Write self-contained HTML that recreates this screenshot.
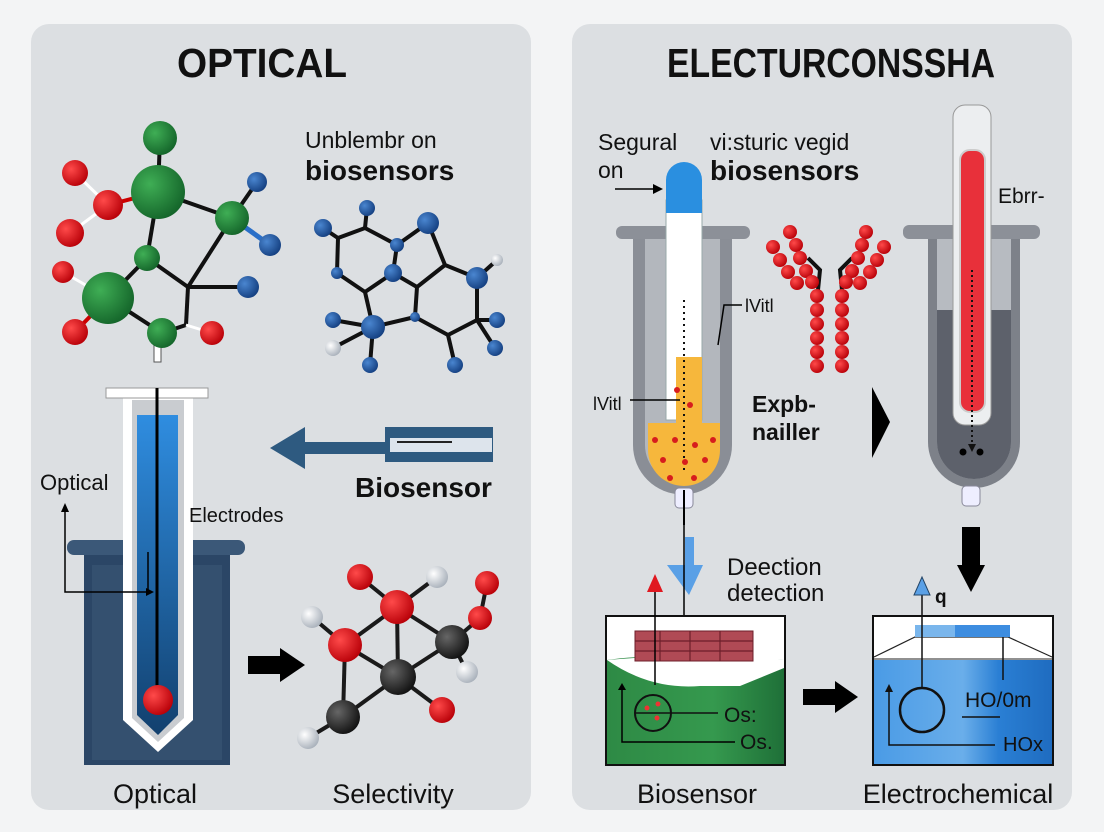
<!DOCTYPE html>
<html><head><meta charset="utf-8"><style>
html,body{margin:0;padding:0;background:#f3f4f5;}
svg{display:block;font-family:"Liberation Sans",sans-serif;}
</style></head><body>
<svg width="1104" height="832" viewBox="0 0 1104 832" xmlns="http://www.w3.org/2000/svg">
<defs>
<linearGradient id="bl" x1="0" y1="0" x2="0" y2="1"><stop offset="0" stop-color="#2f8de0"/><stop offset="1" stop-color="#12406e"/></linearGradient>
<linearGradient id="gr" x1="0" y1="0" x2="1" y2="0"><stop offset="0" stop-color="#2e8a45"/><stop offset="0.6" stop-color="#35994e"/><stop offset="1" stop-color="#1f7038"/></linearGradient>
<linearGradient id="bw" x1="0" y1="0" x2="1" y2="0"><stop offset="0" stop-color="#4a9be6"/><stop offset="0.5" stop-color="#6aaeea"/><stop offset="0.7" stop-color="#2a7fd4"/><stop offset="1" stop-color="#1f6cc0"/></linearGradient>
<radialGradient id="rb" cx="0.35" cy="0.35" r="0.7"><stop offset="0" stop-color="#ff4a4a"/><stop offset="1" stop-color="#b80008"/></radialGradient>
<radialGradient id="gb" cx="0.35" cy="0.35" r="0.7"><stop offset="0" stop-color="#3fae55"/><stop offset="1" stop-color="#14652a"/></radialGradient>
<radialGradient id="ub" cx="0.35" cy="0.35" r="0.7"><stop offset="0" stop-color="#4a86d0"/><stop offset="1" stop-color="#143f80"/></radialGradient>
<radialGradient id="kb" cx="0.35" cy="0.35" r="0.7"><stop offset="0" stop-color="#666"/><stop offset="1" stop-color="#111"/></radialGradient>
<radialGradient id="wb" cx="0.35" cy="0.35" r="0.7"><stop offset="0" stop-color="#ffffff"/><stop offset="1" stop-color="#a8b0ba"/></radialGradient>
</defs>
<rect x="31" y="24" width="500" height="786" rx="18" fill="#dcdfe2"/>
<rect x="572" y="24" width="500" height="786" rx="18" fill="#dcdfe2"/>
<text x="177" y="77" font-size="41" font-weight="bold" fill="#111" textLength="170" lengthAdjust="spacingAndGlyphs">OPTICAL</text>
<text x="667" y="77" font-size="41" font-weight="bold" fill="#111" textLength="328" lengthAdjust="spacingAndGlyphs">ELECTURCONSSHA</text>

<!-- left molecule -->
<g stroke="#111" stroke-width="4" fill="none">
<line x1="160" y1="138" x2="158" y2="192"/><line x1="158" y1="192" x2="232" y2="218"/>
<line x1="158" y1="192" x2="147" y2="258"/><line x1="147" y1="258" x2="108" y2="298"/>
<line x1="147" y1="258" x2="188" y2="287"/><line x1="188" y1="287" x2="232" y2="218"/>
<line x1="188" y1="287" x2="186" y2="325"/><line x1="186" y1="325" x2="162" y2="333"/>
<line x1="162" y1="333" x2="108" y2="298"/><line x1="232" y1="218" x2="257" y2="182"/>
<line x1="188" y1="287" x2="248" y2="287"/>
</g>
<g stroke="#fff" stroke-width="3"><line x1="75" y1="173" x2="108" y2="205"/><line x1="70" y1="233" x2="108" y2="205"/><line x1="63" y1="272" x2="108" y2="298"/><line x1="186" y1="325" x2="212" y2="333"/></g>
<line x1="232" y1="218" x2="270" y2="245" stroke="#2a6fc8" stroke-width="5"/>
<line x1="108" y1="205" x2="158" y2="192" stroke="#c00" stroke-width="4"/>
<line x1="75" y1="332" x2="108" y2="298" stroke="#c00" stroke-width="4"/>
<rect x="154" y="340" width="7" height="22" fill="#fff" stroke="#555"/>
<circle cx="160" cy="138" r="17" fill="url(#gb)"/><circle cx="158" cy="192" r="27" fill="url(#gb)"/>
<circle cx="75" cy="173" r="13" fill="url(#rb)"/><circle cx="108" cy="205" r="15" fill="url(#rb)"/><circle cx="70" cy="233" r="14" fill="url(#rb)"/>
<circle cx="232" cy="218" r="17" fill="url(#gb)"/><circle cx="257" cy="182" r="10" fill="url(#ub)"/><circle cx="270" cy="245" r="11" fill="url(#ub)"/>
<circle cx="147" cy="258" r="13" fill="url(#gb)"/><circle cx="108" cy="298" r="26" fill="url(#gb)"/>
<circle cx="63" cy="272" r="11" fill="url(#rb)"/><circle cx="75" cy="332" r="13" fill="url(#rb)"/>
<circle cx="162" cy="333" r="15" fill="url(#gb)"/><circle cx="212" cy="333" r="12" fill="url(#rb)"/><circle cx="248" cy="287" r="11" fill="url(#ub)"/>

<text x="305" y="148" font-size="23" fill="#111">Unblembr on</text>
<text x="305" y="180" font-size="28" font-weight="bold" fill="#111">biosensors</text>

<!-- blue molecule -->
<g stroke="#111" stroke-width="4" fill="none">
<polyline points="323,228 338,238 365,228 397,245 393,273 365,292 337,273 338,238"/>
<polyline points="397,245 428,223 445,265 477,278 497,260"/>
<polyline points="445,265 417,287 415,317 448,335 477,320 477,278"/>
<line x1="393" y1="273" x2="417" y2="287"/><line x1="365" y1="292" x2="373" y2="327"/>
<line x1="373" y1="327" x2="415" y2="317"/><line x1="373" y1="327" x2="333" y2="320"/>
<line x1="373" y1="327" x2="333" y2="348"/><line x1="373" y1="327" x2="370" y2="365"/>
<line x1="448" y1="335" x2="455" y2="365"/><line x1="477" y1="320" x2="497" y2="320"/><line x1="477" y1="320" x2="495" y2="348"/>
<line x1="365" y1="228" x2="367" y2="208"/>
</g>
<g fill="url(#ub)">
<circle cx="323" cy="228" r="9"/><circle cx="367" cy="208" r="8"/><circle cx="428" cy="223" r="11"/><circle cx="397" cy="245" r="7"/>
<circle cx="393" cy="273" r="9"/><circle cx="337" cy="273" r="6"/><circle cx="477" cy="278" r="11"/><circle cx="373" cy="327" r="12"/>
<circle cx="333" cy="320" r="8"/><circle cx="370" cy="365" r="8"/><circle cx="455" cy="365" r="8"/><circle cx="497" cy="320" r="8"/><circle cx="495" cy="348" r="8"/><circle cx="415" cy="317" r="5"/>
</g>
<circle cx="497" cy="260" r="6" fill="url(#wb)"/><circle cx="333" cy="348" r="8" fill="url(#wb)"/>

<!-- left tube container -->
<rect x="84" y="550" width="146" height="215" fill="#2b4666"/>
<rect x="92" y="565" width="130" height="195" fill="#34506f"/>
<rect x="67" y="540" width="178" height="15" rx="7" fill="#3b5878"/>
<path d="M123,395 L193,395 L193,720 L158,752 L123,720 Z" fill="#fff"/>
<rect x="106" y="388" width="102" height="10" fill="#fff" stroke="#999"/>
<path d="M132,400 L184,400 L184,718 L158,742 L132,718 Z" fill="#c9ccd0"/>
<path d="M137,415 L178,415 L178,715 L158,735 L137,715 Z" fill="url(#bl)"/>
<line x1="157" y1="388" x2="157" y2="690" stroke="#000" stroke-width="3"/>
<circle cx="158" cy="700" r="15" fill="url(#rb)"/>
<g stroke="#000" stroke-width="1.5" fill="none"><polyline points="65,510 65,592 148,592"/><line x1="148" y1="552" x2="148" y2="592"/></g>
<polygon points="61,512 69,512 65,503" fill="#000"/><polygon points="146,588 154,592 146,596" fill="#000"/>
<text x="40" y="490" font-size="22" fill="#111">Optical</text>
<text x="189" y="522" font-size="20" fill="#111">Electrodes</text>

<!-- biosensor arrow -->
<polygon points="270,448 305,427 305,442 386,442 386,454 305,454 305,469" fill="#2e5a80"/>
<rect x="385" y="427" width="108" height="35" fill="#2e5a80"/>
<rect x="390" y="438" width="102" height="14" fill="#dde4ec"/>
<line x1="397" y1="442" x2="452" y2="442" stroke="#222" stroke-width="2"/>
<text x="355" y="497" font-size="28" font-weight="bold" fill="#111">Biosensor</text>

<!-- bottom molecule -->
<polygon points="248,656 280,656 280,648 305,665 280,682 280,674 248,674" fill="#000"/>
<g stroke="#1a1a1a" stroke-width="4">
<line x1="360" y1="577" x2="397" y2="607"/><line x1="437" y1="577" x2="397" y2="607"/>
<line x1="397" y1="607" x2="345" y2="645"/><line x1="397" y1="607" x2="452" y2="642"/><line x1="397" y1="607" x2="398" y2="677"/>
<line x1="312" y1="617" x2="345" y2="645"/><line x1="345" y1="645" x2="398" y2="677"/><line x1="345" y1="645" x2="343" y2="717"/>
<line x1="452" y1="642" x2="398" y2="677"/><line x1="452" y1="642" x2="480" y2="618"/><line x1="480" y1="618" x2="487" y2="583"/>
<line x1="452" y1="642" x2="467" y2="672"/><line x1="398" y1="677" x2="442" y2="710"/><line x1="398" y1="677" x2="343" y2="717"/><line x1="343" y1="717" x2="308" y2="738"/>
</g>
<circle cx="360" cy="577" r="13" fill="url(#rb)"/><circle cx="437" cy="577" r="11" fill="url(#wb)"/>
<circle cx="397" cy="607" r="17" fill="url(#rb)"/><circle cx="487" cy="583" r="12" fill="url(#rb)"/><circle cx="480" cy="618" r="12" fill="url(#rb)"/>
<circle cx="312" cy="617" r="11" fill="url(#wb)"/><circle cx="345" cy="645" r="17" fill="url(#rb)"/><circle cx="452" cy="642" r="17" fill="url(#kb)"/>
<circle cx="467" cy="672" r="11" fill="url(#wb)"/><circle cx="398" cy="677" r="18" fill="url(#kb)"/><circle cx="442" cy="710" r="13" fill="url(#rb)"/>
<circle cx="343" cy="717" r="17" fill="url(#kb)"/><circle cx="308" cy="738" r="11" fill="url(#wb)"/>
<text x="155" y="803" font-size="27" text-anchor="middle" fill="#111">Optical</text>
<text x="393" y="803" font-size="27" text-anchor="middle" fill="#111">Selectivity</text>

<!-- right panel: tube 1 -->
<text x="598" y="150" font-size="23" fill="#111">Segural</text>
<text x="598" y="178" font-size="23" fill="#111">on</text>
<line x1="615" y1="189" x2="655" y2="189" stroke="#000" stroke-width="1.5"/><polygon points="653,184 663,189 653,194" fill="#000"/>
<text x="710" y="150" font-size="23" fill="#111">vi:sturic vegid</text>
<text x="710" y="180" font-size="28" font-weight="bold" fill="#111">biosensors</text>
<path d="M633,235 L732,235 L732,445 A49,49 0 0 1 633,445 Z" fill="#8a8e96"/>
<path d="M645,238 L720,238 L720,445 A37,37 0 0 1 645,445 Z" fill="#b3b7bd"/>
<rect x="616" y="226" width="134" height="13" rx="6" fill="#8c9098"/>
<rect x="666" y="200" width="36" height="220" fill="#fff" stroke="#9aa"/>
<path d="M666,213 L666,180 A18,18 0 0 1 702,180 L702,213 Z" fill="#2a8fe0"/>
<path d="M676,357 L702,357 L702,423 L720,423 L720,450 A36,36 0 0 1 648,450 L648,423 L676,423 Z" fill="#f6b73c"/>
<line x1="684" y1="300" x2="684" y2="470" stroke="#111" stroke-width="2" stroke-dasharray="2,4"/>
<g fill="#d71d1d"><circle cx="677" cy="390" r="3"/><circle cx="690" cy="405" r="3"/><circle cx="655" cy="440" r="3"/><circle cx="675" cy="440" r="3"/><circle cx="695" cy="445" r="3"/><circle cx="713" cy="440" r="3"/><circle cx="663" cy="460" r="3"/><circle cx="685" cy="462" r="3"/><circle cx="705" cy="460" r="3"/><circle cx="670" cy="478" r="3"/><circle cx="694" cy="478" r="3"/></g>
<rect x="675" y="488" width="18" height="20" rx="4" fill="#eef" stroke="#889"/>
<line x1="684" y1="490" x2="684" y2="525" stroke="#000" stroke-width="2"/>
<text x="745" y="312" font-size="18" fill="#111">lVitl</text>
<polyline points="742,305 724,305 718,345" stroke="#000" stroke-width="1.5" fill="none"/>
<text x="593" y="410" font-size="18" fill="#111">lVitl</text>
<line x1="630" y1="400" x2="680" y2="400" stroke="#000" stroke-width="1.5"/>

<!-- antibody -->
<g stroke="#111" stroke-width="4" fill="none"><path d="M818,290 L820,270 L808,258"/><path d="M842,290 L840,270 L852,258"/></g>
<g fill="url(#rb)">
<circle cx="790" cy="232" r="7"/><circle cx="796" cy="245" r="7"/><circle cx="800" cy="258" r="7"/><circle cx="806" cy="271" r="7"/><circle cx="812" cy="282" r="7"/>
<circle cx="773" cy="247" r="7"/><circle cx="780" cy="260" r="7"/><circle cx="788" cy="272" r="7"/><circle cx="797" cy="283" r="7"/>
<circle cx="866" cy="232" r="7"/><circle cx="862" cy="245" r="7"/><circle cx="858" cy="258" r="7"/><circle cx="852" cy="271" r="7"/><circle cx="846" cy="282" r="7"/>
<circle cx="884" cy="247" r="7"/><circle cx="877" cy="260" r="7"/><circle cx="870" cy="272" r="7"/><circle cx="860" cy="283" r="7"/>
<circle cx="817" cy="296" r="7"/><circle cx="817" cy="310" r="7"/><circle cx="817" cy="324" r="7"/><circle cx="817" cy="338" r="7"/><circle cx="817" cy="352" r="7"/><circle cx="817" cy="366" r="7"/>
<circle cx="842" cy="296" r="7"/><circle cx="842" cy="310" r="7"/><circle cx="842" cy="324" r="7"/><circle cx="842" cy="338" r="7"/><circle cx="842" cy="352" r="7"/><circle cx="842" cy="366" r="7"/>
</g>
<text x="752" y="412" font-size="23" font-weight="bold" fill="#111">Expb-</text>
<text x="752" y="440" font-size="23" font-weight="bold" fill="#111">nailler</text>
<polygon points="872,387 890,422 872,458" fill="#000"/>

<!-- tube 2 -->
<path d="M928,235 L1020,235 L1020,442 A46,46 0 0 1 928,442 Z" fill="#7d8189"/>
<path d="M937,238 L1011,238 L1011,442 A37,37 0 0 1 937,442 Z" fill="#b7bbc1"/>
<path d="M937,310 L1011,310 L1011,442 A37,37 0 0 1 937,442 Z" fill="#5d616b"/>
<rect x="903" y="225" width="137" height="14" rx="6" fill="#8c9098"/>
<rect x="953" y="105" width="38" height="320" rx="12" fill="#eceef0" stroke="#999"/>
<rect x="960" y="150" width="25" height="262" rx="10" fill="#e8303a" stroke="#ccc" stroke-width="2"/>
<line x1="972" y1="270" x2="972" y2="445" stroke="#111" stroke-width="2" stroke-dasharray="2,3"/>
<polygon points="968,444 976,444 972,452" fill="#111"/>
<circle cx="963" cy="452" r="3.5" fill="#000"/><circle cx="980" cy="452" r="3.5" fill="#000"/>
<rect x="962" y="486" width="18" height="20" rx="4" fill="#eef" stroke="#889"/>
<text x="998" y="203" font-size="21" fill="#111">Ebrr-</text>

<!-- arrows down -->
<rect x="685" y="537" width="9" height="30" fill="#5aa0e6"/><polygon points="667,565 703,565 689,595" fill="#5aa0e6"/>
<line x1="684" y1="525" x2="684" y2="620" stroke="#000" stroke-width="1.5"/>
<rect x="962" y="527" width="18" height="38" fill="#000"/><polygon points="957,565 985,565 971,592" fill="#000"/>
<text x="727" y="575" font-size="24" fill="#111">Deection</text>
<text x="727" y="601" font-size="24" fill="#111">detection</text>

<!-- left box -->
<rect x="606" y="616" width="179" height="149" fill="#fff" stroke="#111" stroke-width="2"/>
<path d="M607,660 Q640,655 690,657 L784,660 L784,764 L607,764 Z" fill="url(#gr)"/>
<path d="M607,660 Q650,690 700,686 L740,686 L784,668 L784,660 Q700,652 607,660 Z" fill="#fff"/>
<rect x="635" y="631" width="118" height="30" fill="#b04a55" stroke="#6d1f2a"/>
<g stroke="#6d1f2a" stroke-width="1.2"><line x1="635" y1="641" x2="753" y2="641"/><line x1="635" y1="651" x2="753" y2="651"/><line x1="660" y1="631" x2="660" y2="661"/><line x1="690" y1="631" x2="690" y2="661"/><line x1="720" y1="631" x2="720" y2="661"/></g>
<line x1="655" y1="685" x2="655" y2="585" stroke="#000" stroke-width="1.5"/><polygon points="647,592 663,592 655,574" fill="#e01820"/>
<polyline points="622,688 622,742 735,742" stroke="#000" stroke-width="1.5" fill="none"/><polygon points="618,690 626,690 622,683" fill="#000"/>
<circle cx="653" cy="713" r="18" fill="none" stroke="#111" stroke-width="2"/>
<line x1="636" y1="713" x2="718" y2="713" stroke="#111" stroke-width="1.5"/>
<circle cx="647" cy="708" r="2.5" fill="#e33"/><circle cx="658" cy="704" r="2.5" fill="#e33"/><circle cx="657" cy="718" r="2.5" fill="#e33"/>
<text x="724" y="722" font-size="21" fill="#111">Os:</text>
<text x="740" y="749" font-size="21" fill="#111">Os.</text>
<polygon points="803,689 835,689 835,681 858,697 835,713 835,705 803,705" fill="#000"/>

<!-- right box -->
<rect x="873" y="616" width="180" height="149" fill="#fff" stroke="#111" stroke-width="2"/>
<rect x="874" y="660" width="178" height="104" fill="url(#bw)"/>
<polyline points="874,657 915,637 1008,637 1052,657" stroke="#222" stroke-width="1.2" fill="none"/>
<line x1="874" y1="659" x2="1052" y2="659" stroke="#222" stroke-width="1"/>
<rect x="915" y="625" width="95" height="12" fill="#3d8de0"/><rect x="915" y="625" width="40" height="12" fill="#7ab6ec"/>
<line x1="1003" y1="637" x2="1003" y2="680" stroke="#111" stroke-width="1.5"/>
<circle cx="922" cy="710" r="22" fill="none" stroke="#111" stroke-width="2.5"/>
<line x1="922" y1="688" x2="922" y2="590" stroke="#111" stroke-width="1.5"/><polygon points="914,595 930,595 922,577" fill="#5aa0e6" stroke="#246" stroke-width="1"/>
<text x="935" y="603" font-size="19" font-weight="bold" fill="#111">q</text>
<polyline points="889,690 889,745 995,745" stroke="#111" stroke-width="1.5" fill="none"/><polygon points="885,692 893,692 889,684" fill="#111"/>
<line x1="962" y1="717" x2="1000" y2="717" stroke="#111" stroke-width="1.5"/>
<text x="965" y="707" font-size="21" fill="#111">HO/0m</text>
<text x="1003" y="751" font-size="20" fill="#111">HOx</text>

<text x="697" y="803" font-size="27" text-anchor="middle" fill="#111">Biosensor</text>
<text x="958" y="803" font-size="27" text-anchor="middle" fill="#111">Electrochemical</text>
</svg>
</body></html>
